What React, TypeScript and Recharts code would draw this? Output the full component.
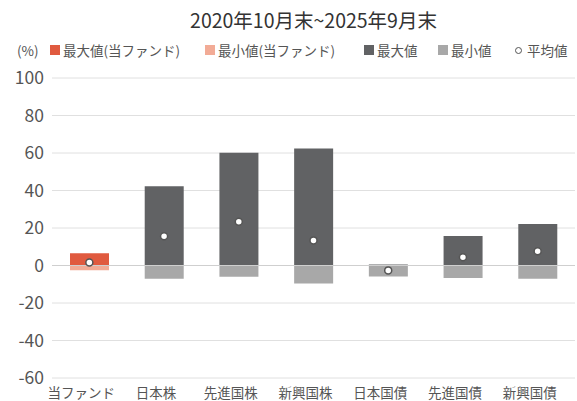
import { ComposedChart, Bar, Line, XAxis, YAxis, CartesianGrid, ReferenceLine } from 'recharts';

const categories = ['当ファンド', '日本株', '先進国株', '新興国株', '日本国債', '先進国債', '新興国債'];
const fundMax = [6.5, null, null, null, null, null, null];
const fundMin = [-2.5, null, null, null, null, null, null];
const assetMax = [null, 42.3, 60.2, 62.4, 0.6, 15.8, 22.1];
const assetMin = [null, -7.0, -6.0, -9.6, -5.8, -6.6, -7.0];
const average = [1.6, 15.6, 23.3, 13.4, -2.6, 4.4, 7.6];
const yTicks = [-60, -40, -20, 0, 20, 40, 60, 80, 100];

const FONT = '"Noto Sans CJK JP", "Noto Sans", sans-serif';
const RED = '#e05a3f';
const SALMON = '#f2ab96';
const DARK = '#616264';
const LIGHT = '#a8a8a8';

const data = categories.map((name, i) => ({
  name,
  fundMax: fundMax[i],
  fundMin: fundMin[i],
  max: assetMax[i],
  min: assetMin[i],
  avg: average[i],
}));

const legendItems = [
  { label: '最大値(当ファンド)', color: RED, left: 50 },
  { label: '最小値(当ファンド)', color: SALMON, left: 205 },
  { label: '最大値', color: DARK, left: 364 },
  { label: '最小値', color: LIGHT, left: 438 },
];

function CategoryTick({ x, y, payload }: any) {
  return (
    <text x={x - 8} y={y + 12} textAnchor="middle" fill="#555" fontSize={13.5} fontFamily={FONT}>
      {payload.value}
    </text>
  );
}

export default function App() {
  return (
    <div style={{ position: 'absolute', left: 0, top: 0, width: 577, height: 401, background: '#fff', fontFamily: FONT }}>
      <div style={{ position: 'absolute', left: 52, width: 523, top: 5, textAlign: 'center', fontSize: 19.5, color: '#333' }}>
        2020年10月末~2025年9月末
      </div>
      <div style={{ position: 'absolute', top: 40, left: 0, width: 577, height: 20, fontSize: 13.5, color: '#555' }}>
        <span style={{ position: 'absolute', left: 17, top: 0 }}>(%)</span>
        {legendItems.map(it => (
          <span key={it.label} style={{ position: 'absolute', left: it.left, top: 0, display: 'flex', alignItems: 'center', gap: 3 }}>
            <span style={{ display: 'inline-block', width: 10, height: 10, background: it.color }} />
            {it.label}
          </span>
        ))}
        <span style={{ position: 'absolute', left: 515, top: 0, display: 'flex', alignItems: 'center', gap: 5 }}>
          <span style={{ display: 'inline-block', width: 5, height: 5, borderRadius: '50%', border: '1.5px solid #555' }} />
          平均値
        </span>
      </div>
      <div style={{ position: 'absolute', left: 0, top: 0 }}>
        <ComposedChart
          width={577}
          height={401}
          data={data}
          stackOffset="sign"
          barCategoryGap={0}
          margin={{ top: 78, right: 2, bottom: 3, left: 0 }}
        >
          <CartesianGrid vertical={false} stroke="#e0e0e0" />
          <XAxis dataKey="name" axisLine={false} tickLine={false} height={20} tick={<CategoryTick />} interval={0} />
          <YAxis
            domain={[-60, 100]}
            ticks={yTicks}
            width={52}
            axisLine={false}
            tickLine={false}
            tick={{ fill: '#555', fontSize: 17.5, fontFamily: FONT }}
          />
          <ReferenceLine y={0} stroke="#cfcfcf" />
          <Bar dataKey="fundMax" stackId="a" fill={RED} barSize={39} isAnimationActive={false} />
          <Bar dataKey="fundMin" stackId="a" fill={SALMON} barSize={39} isAnimationActive={false} />
          <Bar dataKey="max" stackId="a" fill={DARK} barSize={39} isAnimationActive={false} />
          <Bar dataKey="min" stackId="a" fill={LIGHT} barSize={39} isAnimationActive={false} />
          <Line
            dataKey="avg"
            stroke="none"
            dot={{ r: 3.5, fill: '#fff', stroke: '#555', strokeWidth: 1.5 }}
            activeDot={false}
            isAnimationActive={false}
          />
        </ComposedChart>
      </div>
    </div>
  );
}
